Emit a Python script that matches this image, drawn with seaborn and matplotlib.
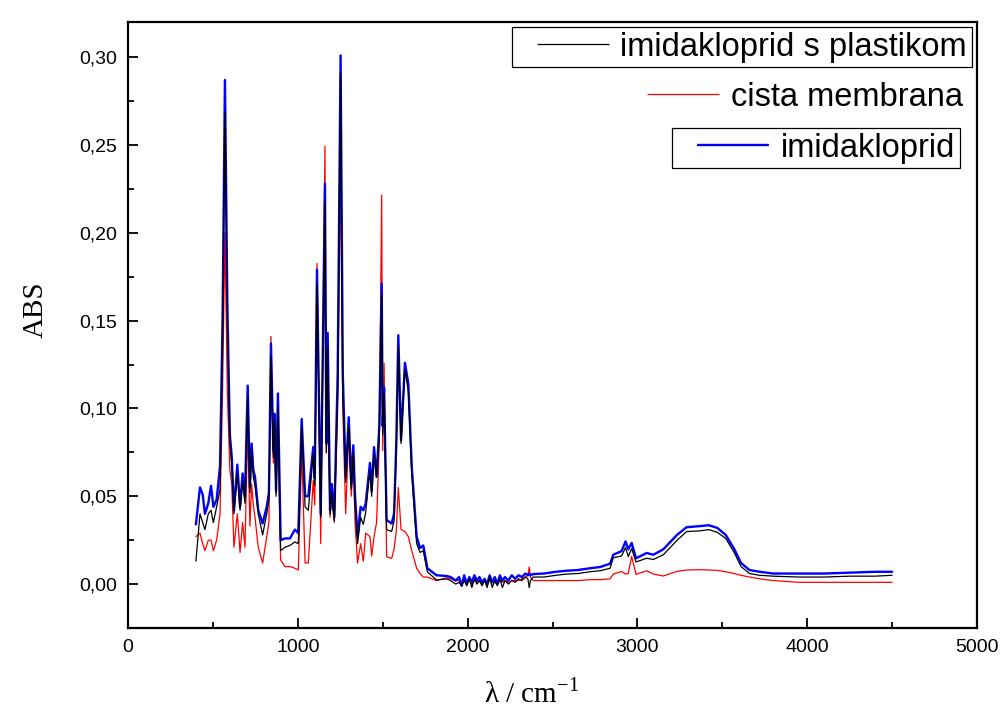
import matplotlib
matplotlib.use("Agg")
import matplotlib.pyplot as plt
from matplotlib.lines import Line2D
from matplotlib.ticker import MultipleLocator, FuncFormatter
import seaborn as sns
import pandas as pd

# wavenumber grid (cm-1)
wavenumber = [
    400, 424, 440, 453, 473, 489, 503, 522, 542, 557, 571, 585, 600, 611, 624,
    644, 660, 675, 689, 705, 718, 728, 738, 748, 767, 793, 817, 830, 842, 856,
    862, 872, 883, 899, 925, 954, 983, 1003, 1023, 1043, 1062, 1091, 1100, 1113,
    1135, 1160, 1168, 1176, 1190, 1200, 1215, 1235, 1252, 1265, 1282, 1300, 1315,
    1327, 1337, 1352, 1370, 1386, 1400, 1425, 1435, 1449, 1464, 1480, 1494, 1500,
    1508, 1523, 1553, 1567, 1580, 1592, 1608, 1631, 1651, 1671, 1700, 1720, 1739,
    1763, 1817, 1876, 1900,
    1930, 1950, 1965, 1980, 1995, 2010, 2025, 2040, 2055, 2070, 2085, 2100, 2115,
    2130, 2145, 2160, 2175, 2190, 2205, 2220, 2240, 2260, 2280, 2300, 2320, 2340,
    2355, 2363, 2370, 2386, 2450, 2520, 2584, 2650, 2720, 2780, 2839, 2858, 2907,
    2930, 2946, 2966, 2992, 3055, 3094, 3153, 3232, 3290, 3369, 3420, 3470, 3520,
    3570, 3610, 3660, 3720, 3800, 3950, 4100, 4250, 4400, 4500,
]

# imidakloprid (blue)
abs_imid = [
    0.034, 0.055, 0.051, 0.040, 0.046, 0.056, 0.044, 0.048, 0.067, 0.150, 0.287, 0.160, 0.085, 0.0725, 0.042,
    0.068, 0.044, 0.063, 0.050, 0.113, 0.055, 0.080, 0.065, 0.061, 0.042, 0.0345, 0.044, 0.052, 0.137, 0.076,
    0.097, 0.053, 0.1085, 0.025, 0.026, 0.026, 0.031, 0.029, 0.094, 0.050, 0.050, 0.078, 0.060, 0.179,
    0.040, 0.228, 0.080, 0.143, 0.042, 0.057, 0.038, 0.120, 0.301, 0.120, 0.061, 0.095, 0.057,
    0.079, 0.050, 0.027, 0.044, 0.042, 0.046, 0.069, 0.053, 0.078, 0.061, 0.090, 0.171, 0.090,
    0.112, 0.0365, 0.0345, 0.040, 0.080, 0.1417, 0.082, 0.126, 0.114, 0.067, 0.027, 0.0205, 0.022,
    0.009, 0.005, 0.0046, 0.004,
    0.002, 0.004, -0.001, 0.005, 0.000, 0.004, 0.001, 0.005, 0.002, 0.004, 0.001, 0.003, 0.000,
    0.005, 0.001, 0.004, 0.000, 0.005, 0.002, 0.004, 0.002, 0.005, 0.003, 0.005, 0.004, 0.006,
    0.005, 0.006, 0.005, 0.0057, 0.006, 0.007, 0.0076, 0.008, 0.009, 0.0097, 0.0116, 0.0167, 0.0188,
    0.0243, 0.0198, 0.0234, 0.0147, 0.0177, 0.0167, 0.0198, 0.0279, 0.0324, 0.033, 0.0335, 0.032, 0.028,
    0.020, 0.012, 0.008, 0.007, 0.006, 0.006, 0.006, 0.0065, 0.007, 0.007,
]

# imidakloprid s plastikom (black)
abs_imid_plast = [
    0.013, 0.040, 0.035, 0.031, 0.040, 0.042, 0.035, 0.044, 0.054, 0.140, 0.269, 0.150, 0.080, 0.0696, 0.040,
    0.063, 0.042, 0.058, 0.046, 0.1066, 0.052, 0.076, 0.061, 0.056, 0.040, 0.028, 0.040, 0.048, 0.130, 0.072,
    0.093, 0.050, 0.101, 0.019, 0.021, 0.022, 0.024, 0.023, 0.0895, 0.044, 0.042, 0.074, 0.056, 0.171,
    0.038, 0.2177, 0.075, 0.135, 0.040, 0.052, 0.036, 0.110, 0.291, 0.110, 0.058, 0.0895, 0.054,
    0.075, 0.047, 0.023, 0.038, 0.034, 0.041, 0.065, 0.050, 0.074, 0.061, 0.085, 0.1645, 0.085,
    0.109, 0.031, 0.030, 0.036, 0.075, 0.135, 0.080, 0.122, 0.110, 0.063, 0.023, 0.018, 0.019,
    0.007, 0.0023, 0.003, 0.002,
    0.000, 0.001, -0.001, 0.002, -0.001, 0.003, -0.002, 0.003, 0.000, 0.002, -0.001, 0.002, -0.002,
    0.004, -0.002, 0.002, -0.001, 0.003, -0.002, 0.002, 0.000, 0.002, 0.001, 0.003, 0.002, 0.004,
    0.003, -0.002, 0.002, 0.004, 0.004, 0.005, 0.0057, 0.006, 0.007, 0.0076, 0.009, 0.015, 0.016,
    0.0208, 0.0157, 0.0202, 0.0126, 0.0147, 0.014, 0.0167, 0.0248, 0.0299, 0.0303, 0.031, 0.0295, 0.026,
    0.018, 0.010, 0.006, 0.005, 0.0045, 0.004, 0.004, 0.0045, 0.0045, 0.005,
]

# cista membrana (red)
abs_membrana = [
    0.027, 0.029, 0.023, 0.019, 0.025, 0.025, 0.019, 0.025, 0.040, 0.110, 0.200, 0.110, 0.065, 0.057, 0.021,
    0.040, 0.018, 0.035, 0.021, 0.0895, 0.033, 0.057, 0.045, 0.038, 0.021, 0.012, 0.027, 0.035, 0.141, 0.069,
    0.086, 0.052, 0.093, 0.0137, 0.0099, 0.010, 0.009, 0.008, 0.075, 0.012, 0.012, 0.059, 0.045, 0.1826,
    0.023, 0.2493, 0.0745, 0.100, 0.038, 0.052, 0.035, 0.100, 0.240, 0.100, 0.040, 0.086, 0.050,
    0.0706, 0.035, 0.012, 0.023, 0.013, 0.029, 0.027, 0.016, 0.027, 0.035, 0.080, 0.2214, 0.076,
    0.1257, 0.0156, 0.0146, 0.020, 0.030, 0.055, 0.031, 0.030, 0.027, 0.019, 0.009, 0.006, 0.004,
    0.004, 0.002, 0.0035, 0.003,
    0.002, 0.002, 0.001, 0.002, 0.001, 0.003, 0.000, 0.002, 0.001, 0.002, 0.000, 0.002, 0.000,
    0.002, 0.001, 0.001, 0.000, 0.002, 0.001, 0.002, 0.001, 0.002, 0.002, 0.002, 0.003, 0.004,
    0.005, 0.0097, 0.004, 0.002, 0.002, 0.002, 0.002, 0.002, 0.0025, 0.0025, 0.003, 0.0057, 0.0072,
    0.0057, 0.006, 0.0157, 0.0055, 0.0076, 0.0057, 0.0046, 0.0072, 0.008, 0.0082, 0.008, 0.0078, 0.007,
    0.006, 0.005, 0.004, 0.003, 0.002, 0.001, 0.001, 0.001, 0.001, 0.001,
]

labels = ["imidakloprid s plastikom", "cista membrana", "imidakloprid"]

df = pd.DataFrame({
    "wn": wavenumber,
    "imid": abs_imid,
    "plast": abs_imid_plast,
    "memb": abs_membrana,
})

sns.set_style("ticks")
plt.rcParams["font.family"] = ["Liberation Sans", "DejaVu Sans"]
plt.rcParams["mathtext.fontset"] = "custom"
plt.rcParams["mathtext.rm"] = "Liberation Serif"
plt.rcParams["lines.scale_dashes"] = False
plt.rcParams["text.color"] = "black"
plt.rcParams["axes.labelcolor"] = "black"
plt.rcParams["xtick.color"] = "black"
plt.rcParams["ytick.color"] = "black"

fig = plt.figure(figsize=(10.03, 7.15), dpi=100)
ax = fig.add_axes([0.1276, 0.1217, 0.8465, 0.8475])

# membrana first, then imidakloprid, black on top
sns.lineplot(data=df, x="wn", y="memb", ax=ax, color="#ff0000", lw=0.9,
             estimator=None, sort=False)
sns.lineplot(data=df, x="wn", y="imid", ax=ax, color="#0000ff", lw=1.7,
             estimator=None, sort=False)
sns.lineplot(data=df, x="wn", y="plast", ax=ax, color="black", lw=0.9,
             estimator=None, sort=False)

ax.set_xlim(0, 5000)
ax.set_ylim(-0.025, 0.32)
ax.xaxis.set_major_locator(MultipleLocator(1000))
ax.xaxis.set_minor_locator(MultipleLocator(500))
ax.yaxis.set_major_locator(MultipleLocator(0.05))
ax.yaxis.set_minor_locator(MultipleLocator(0.025))
ax.yaxis.set_major_formatter(FuncFormatter(lambda v, p: f"{v:.2f}".replace(".", ",")))
ax.tick_params(which="both", direction="in", top=False, right=False, width=1.3,
               colors="black")
ax.tick_params(which="major", length=7, labelsize=14, pad=8)
ax.tick_params(which="minor", length=4)
for sp in ax.spines.values():
    sp.set_linewidth(1.6)
    sp.set_color("black")

ax.set_ylabel("ABS", family="Liberation Serif", fontsize=21, color="black")
ax.yaxis.set_label_coords(-0.093, 0.525)
ax.set_xlabel(r"λ / cm$^{\mathregular{-1}}$", family="Liberation Serif", fontsize=21, color="black")
ax.xaxis.set_label_coords(0.475, -0.0825)

# three separate legend boxes, like the original (Origin style, line indented in box)
common = dict(fontsize=23.5, handlelength=2.82, handletextpad=0.35, borderpad=0.15,
              borderaxespad=0, fancybox=False, framealpha=1, edgecolor="black",
              loc="center right", labelcolor="black")
# gap then line: (offset, (on, off)) so the sample starts after an indent
indent = (51.8, (51.8, 14.4))
h_black = Line2D([], [], color="black", lw=0.9, linestyle=indent)
h_red = Line2D([], [], color="#ff0000", lw=0.9, linestyle=indent)
h_blue = Line2D([], [], color="#0000ff", lw=1.7, linestyle=indent)

leg1 = ax.legend([h_black], [labels[0]], bbox_to_anchor=(0.994, 0.9587), frameon=True, **common)
leg1.get_frame().set_linewidth(0.9)
ax.add_artist(leg1)
leg2 = ax.legend([h_red], [labels[1]], bbox_to_anchor=(0.989, 0.876), frameon=False, **common)
ax.add_artist(leg2)
leg3 = ax.legend([h_blue], [labels[2]], bbox_to_anchor=(0.98, 0.792), frameon=True, **common)
leg3.get_frame().set_linewidth(0.9)

fig.savefig("out.png", dpi=100)
